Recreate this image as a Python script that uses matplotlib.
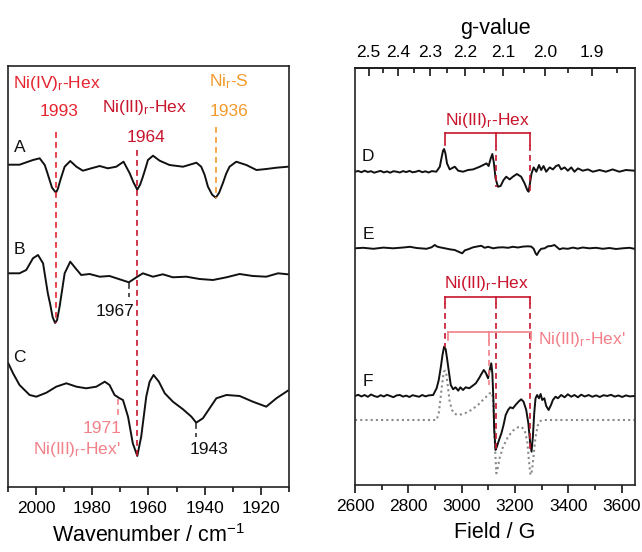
import numpy as np
import matplotlib
matplotlib.use("Agg")
import matplotlib.pyplot as plt

plt.rcParams['font.family'] = ['Liberation Sans', 'DejaVu Sans']
plt.rcParams['mathtext.fontset'] = 'custom'
plt.rcParams['mathtext.rm'] = 'Liberation Sans'
plt.rcParams['mathtext.it'] = 'Liberation Sans'

# ---------------- IR data (wavenumber, relative absorbance) ----------------
ir_A_wn = [2010, 2006.0, 2001.2, 1998.8, 1997.0, 1996.2, 1995.3, 1994.4, 1993.0, 1992.3, 1991.5, 1990.6,
           1989.9, 1987.9, 1985.7, 1983.4, 1980.4, 1977.4, 1974.5, 1971.5, 1968.9, 1966.7, 1965.3, 1964.0,
           1963.0, 1962.0, 1961.0, 1960.2, 1958.4, 1956.0, 1952.5, 1947.7, 1942.9, 1941.2, 1940.0, 1938.8,
           1937.3, 1936.0, 1934.8, 1933.5, 1932.3, 1931.1, 1928.7, 1925.1, 1921.5, 1918.0, 1914.4, 1910.3]
ir_A_val = [0.02, 0.02, 0.067, 0.084, 0.017, -0.05, -0.13, -0.21, -0.26, -0.22, -0.14, -0.06,
            0.0, 0.057, 0.0, -0.04, -0.016, 0.007, -0.016, 0.0, 0.05, -0.066, -0.16, -0.23,
            -0.18, -0.10, -0.01, 0.067, 0.11, 0.06, 0.017, 0.0, 0.04, 0.0, -0.08, -0.20,
            -0.28, -0.31, -0.26, -0.166, -0.07, 0.0, 0.05, 0.017, -0.033, -0.023, -0.01, 0.0]

ir_B_wn = [2010, 2006.0, 2003.6, 2001.2, 1999.4, 1997.6, 1995.9, 1995.0, 1994.2, 1993.3, 1992.6, 1991.7,
           1990.8, 1989.9, 1987.9, 1986.0, 1984.0, 1981.0, 1977.4, 1973.9, 1970.3, 1967.0, 1964.3, 1962.0,
           1958.4, 1954.9, 1951.3, 1946.5, 1941.8, 1937.0, 1932.2, 1927.5, 1922.8, 1918.0, 1913.8, 1910.3]
ir_B_val = [0.017, 0.017, 0.05, 0.167, 0.20, 0.117, -0.183, -0.30, -0.42, -0.48, -0.45, -0.317,
            -0.15, 0.017, 0.133, 0.067, 0.0, 0.01, -0.017, -0.01, -0.043, -0.073, -0.023, 0.017,
            -0.017, 0.007, -0.023, -0.017, -0.04, -0.05, -0.023, 0.01, -0.01, -0.017, 0.017, 0.007]

ir_C_wn = [2010, 2008.3, 2006.0, 2002.4, 2000.0, 1996.4, 1992.9, 1989.3, 1985.7, 1982.2, 1978.6, 1975.6,
           1973.9, 1972.1, 1970.3, 1969.1, 1967.3, 1965.6, 1964.0, 1962.6, 1960.8, 1959.6, 1958.2, 1956.3,
           1954.2, 1951.3, 1947.7, 1944.7, 1943.0, 1940.6, 1938.2, 1935.8, 1932.2, 1927.5, 1922.8, 1918.0,
           1914.4, 1910.3]
ir_C_val = [0.267, 0.167, 0.05, -0.05, -0.067, -0.027, 0.033, 0.067, 0.033, 0.017, 0.033, 0.083,
            0.05, -0.05, -0.083, -0.10, -0.267, -0.533, -0.66, -0.467, -0.067, 0.083, 0.15, 0.083,
            -0.033, -0.117, -0.193, -0.267, -0.327, -0.283, -0.183, -0.083, -0.05, -0.06, -0.117, -0.167,
            -0.083, -0.007]

ir_offsets = {'A': 3.203, 'B': 2.12, 'C': 0.97}

# ---------------- EPR data (field / G, relative signal) ----------------
epr_D_B = [2600, 2612, 2624, 2636, 2648, 2660, 2672, 2684, 2696, 2708, 2720, 2732, 2744, 2756, 2768, 2780,
           2792, 2804, 2816, 2828, 2840, 2852, 2864, 2876, 2888, 2905, 2918, 2924, 2930, 2934, 2939, 2945,
           2955, 2974, 2987, 3005, 3024, 3043, 3068, 3093, 3101, 3109, 3115, 3121, 3127, 3136, 3146, 3157,
           3167, 3180, 3192, 3207, 3223, 3236, 3246, 3251, 3256, 3262, 3270, 3280, 3290, 3298, 3307, 3317,
           3330, 3342, 3354, 3364, 3373, 3386, 3398, 3411, 3423, 3436, 3454, 3473, 3492, 3517, 3541, 3566,
           3591, 3616, 3648]
epr_D_val = [0.0, 0.007, -0.005, 0.01, -0.003, 0.005, -0.01, 0.0, 0.008, -0.007, 0.003, -0.01, 0.005, 0.0,
             -0.008, 0.006, -0.004, 0.008, -0.006, 0.0, 0.01, -0.005, 0.004, -0.008, 0.006, 0.0, 0.05, 0.133,
             0.21, 0.227, 0.183, 0.083, 0.023, 0.05, 0.01, 0.0, 0.017, 0.023, 0.05, 0.083, 0.057, 0.133, 0.177,
             0.083, -0.067, -0.15, -0.143, -0.083, -0.05, -0.077, -0.05, -0.023, -0.05, -0.117, -0.183, -0.20,
             -0.117, -0.017, 0.043, 0.0, 0.067, 0.017, 0.057, 0.0, 0.043, 0.023, 0.057, 0.067, 0.023, 0.043,
             0.01, 0.043, 0.0, 0.033, 0.01, 0.023, 0.0, 0.017, 0.0, 0.023, 0.0, 0.017, 0.01]

epr_E_B = [2600, 2631, 2669, 2706, 2743, 2781, 2806, 2831, 2868, 2887, 2899, 2908, 2918, 2937, 2955, 2974,
           2993, 3002, 3012, 3024, 3043, 3062, 3074, 3086, 3099, 3118, 3136, 3155, 3174, 3192, 3211, 3230,
           3248, 3261, 3270, 3277, 3282, 3290, 3298, 3311, 3323, 3336, 3348, 3358, 3367, 3379, 3398, 3417,
           3435, 3454, 3479, 3504, 3529, 3554, 3579, 3604, 3629, 3648]
epr_E_val = [0.0, 0.005, -0.005, 0.007, 0.0, 0.008, 0.015, 0.003, -0.005, 0.01, 0.033, 0.017, 0.01, 0.0,
             -0.01, -0.017, -0.04, -0.05, -0.02, -0.01, 0.01, 0.02, 0.025, 0.005, 0.015, 0.0, 0.008, 0.01,
             0.005, 0.015, 0.008, 0.017, 0.02, 0.017, -0.005, -0.05, -0.067, -0.03, -0.005, 0.0, 0.02, 0.023,
             0.033, 0.01, -0.01, 0.0, -0.005, 0.007, -0.003, 0.008, 0.0, 0.005, -0.005, 0.003, -0.007, 0.0,
             0.005, -0.005]

epr_F_B = [2600, 2612, 2624, 2636, 2648, 2660, 2672, 2684, 2696, 2708, 2720, 2732, 2744, 2756, 2768, 2780,
           2792, 2804, 2816, 2828, 2840, 2852, 2864, 2876, 2893, 2906, 2914, 2922, 2928, 2934, 2940, 2945,
           2952, 2959, 2968, 2977, 2987, 2995, 3005, 3015, 3028, 3040, 3053, 3065, 3074, 3083, 3090, 3099,
           3105, 3111, 3115, 3119, 3122, 3127, 3132, 3140, 3149, 3157, 3165, 3174, 3182, 3192, 3202, 3213,
           3223, 3232, 3242, 3250, 3257, 3262, 3267, 3272, 3277, 3283, 3290, 3296, 3302, 3310, 3317, 3326,
           3335, 3342, 3352, 3361, 3373, 3386, 3398, 3411, 3423, 3436, 3448, 3462, 3476, 3490, 3504, 3518,
           3532, 3546, 3560, 3574, 3588, 3602, 3616, 3630, 3648]
epr_F_val = [0.0, 0.012, -0.005, 0.01, -0.008, 0.015, 0.0, -0.01, 0.008, -0.005, 0.012, 0.0, -0.012, 0.006,
             0.01, -0.006, 0.004, -0.01, 0.008, 0.0, -0.008, 0.01, -0.004, 0.006, 0.01, 0.077, 0.16, 0.293,
             0.41, 0.493, 0.467, 0.377, 0.243, 0.11, 0.067, 0.087, 0.053, 0.087, 0.06, 0.087, 0.077, 0.10,
             0.127, 0.177, 0.22, 0.26, 0.233, 0.177, 0.26, 0.327, 0.227, -0.04, -0.34, -0.54, -0.507, -0.44,
             -0.373, -0.29, -0.19, -0.14, -0.113, -0.123, -0.09, -0.057, -0.033, -0.057, -0.14, -0.273, -0.473,
             -0.557, -0.407, -0.173, -0.023, 0.01, -0.023, 0.02, -0.04, -0.023, -0.1, -0.14, -0.09, -0.04,
             -0.007, -0.023, 0.01, -0.013, 0.017, -0.007, 0.01, -0.013, 0.013, -0.005, 0.01, -0.008, 0.006,
             -0.01, 0.008, 0.0, 0.012, -0.006, 0.005, -0.01, 0.006, -0.004, 0.0]

sim_F_B = [2600, 2906, 2914, 2920, 2927, 2933, 2938, 2943, 2949, 2955, 2964, 2974, 2990, 3012, 3036, 3061,
           3086, 3105, 3114, 3119, 3122, 3126, 3130, 3135, 3142, 3155, 3174, 3192, 3211, 3223, 3236, 3246,
           3252, 3258, 3263, 3270, 3277, 3286, 3295, 3307, 3648]
sim_F_val = [0.0, 0.0, 0.067, 0.2, 0.367, 0.483, 0.493, 0.45, 0.317, 0.183, 0.1, 0.06, 0.05, 0.067, 0.1,
             0.15, 0.217, 0.267, 0.273, 0.167, -0.067, -0.333, -0.533, -0.483, -0.383, -0.267, -0.167, -0.107,
             -0.073, -0.067, -0.1, -0.217, -0.4, -0.55, -0.517, -0.35, -0.167, -0.05, -0.01, 0.0, 0.0]

epr_offsets = {'D': 3.133, 'E': 2.367, 'F': 0.89, 'sim': 0.65}

hex_fields = [2937, 3127, 3255]       # Ni(III)r-Hex
hexp_fields = [2949, 3102, 3261]      # Ni(III)r-Hex'
g_major = [2.5, 2.4, 2.3, 2.2, 2.1, 2.0, 1.9]
g_minor = [2.45, 2.35, 2.25, 2.15, 2.05, 1.95, 1.85]
gB_const = 6627.0  # g * B(G) for the microwave frequency used

# ---------------- colours ----------------
c_iv = '#e52530'
c_iii = '#c8142c'
c_or = '#f49a2a'
c_pk = '#f28088'
c_line = '#111111'

fs = 12.5
fig = plt.figure(figsize=(6.42, 5.52), dpi=100)
axL = fig.add_axes([0.0129, 0.1178, 0.4368, 0.7626])
axR = fig.add_axes([0.553, 0.1214, 0.4361, 0.7554])

for ax in (axL, axR):
    for s in ax.spines.values():
        s.set_linewidth(1.2)
        s.set_color('#222222')
    ax.set_yticks([])
    ax.tick_params(axis='x', which='major', direction='out', length=6, width=1.1, labelsize=fs, pad=4)
    ax.tick_params(axis='x', which='minor', direction='out', length=3.5, width=1.1)

# ----- left panel -----
for key, wn, val in (('A', ir_A_wn, ir_A_val), ('B', ir_B_wn, ir_B_val), ('C', ir_C_wn, ir_C_val)):
    axL.plot(wn, np.array(val) + ir_offsets[key], color=c_line, lw=1.4)
axL.set_xlim(2010, 1910)
axL.set_ylim(0, 4.21)
axL.set_xticks([2000, 1980, 1960, 1940, 1920])
axL.set_xticks([2010, 1990, 1970, 1950, 1930, 1910], minor=True)
axL.set_xlabel('Wavenumber / cm$^{-1}$', fontsize=15.5, labelpad=6)

dash = dict(ls=(0, (3.5, 2.5)), lw=1.2)
axL.plot([1993, 1993], [3.553, 2.12 - 0.48], color=c_iv, **dash)
axL.plot([1964, 1964], [3.37, 0.97 - 0.66], color=c_iii, **dash)
axL.plot([1936, 1936], [3.60, 3.203 - 0.31], color=c_or, **dash)
axL.plot([1971, 1971], [0.88, 0.69], color=c_pk, **dash)
axL.plot([1943, 1943], [0.64, 0.50], color='#333333', **dash)
axL.plot([1967, 1967], [2.04, 1.90], color='#333333', **dash)

tk = dict(fontsize=fs, ha='center', va='center')
axL.text(1992.6, 4.04, 'Ni(IV)$_\\mathrm{r}$-Hex', color=c_iv, **tk)
axL.text(1992.0, 3.753, '1993', color=c_iv, **tk)
axL.text(1961.4, 3.80, 'Ni(III)$_\\mathrm{r}$-Hex', color=c_iii, **tk)
axL.text(1961.0, 3.50, '1964', color=c_iii, **tk)
axL.text(1931.4, 4.053, 'Ni$_\\mathrm{r}$-S', color=c_or, **tk)
axL.text(1931.4, 3.753, '1936', color=c_or, **tk)
axL.text(1972.1, 1.753, '1967', color='#111111', **tk)
axL.text(1976.7, 0.587, '1971', color=c_pk, **tk)
axL.text(1985.6, 0.37, "Ni(III)$_\\mathrm{r}$-Hex'", color=c_pk, **tk)
axL.text(1938.5, 0.377, '1943', color='#111111', **tk)
axL.text(2006, 3.40, 'A', color='#111111', **tk)
axL.text(2006, 2.37, 'B', color='#111111', **tk)
axL.text(2006, 1.29, 'C', color='#111111', **tk)

# ----- right panel -----
axR.plot(epr_D_B, np.array(epr_D_val) + epr_offsets['D'], color=c_line, lw=1.4)
axR.plot(epr_E_B, np.array(epr_E_val) + epr_offsets['E'], color=c_line, lw=1.4)
axR.plot(sim_F_B, np.array(sim_F_val) + epr_offsets['sim'], color='#8a8a8a', lw=1.5, ls=(0, (1, 1.5)))
axR.plot(epr_F_B, np.array(epr_F_val) + epr_offsets['F'], color=c_line, lw=1.4)
axR.set_xlim(2600, 3650)
axR.set_ylim(0, 4.17)
axR.set_xticks([2600, 2800, 3000, 3200, 3400, 3600])
axR.set_xticks([2700, 2900, 3100, 3300, 3500], minor=True)
axR.set_xlabel('Field / G', fontsize=15.5, labelpad=6)

def b2g(b):
    b = np.asarray(b, dtype=float)
    return gB_const / np.where(np.abs(b) < 1e-9, 1e-9, b)

sec = axR.secondary_xaxis('top', functions=(b2g, b2g))
sec.set_xticks(g_major)
sec.set_xticks(g_minor, minor=True)
sec.set_xticklabels(['%.1f' % g for g in g_major])
sec.tick_params(axis='x', which='major', direction='in', length=6, width=1.1, labelsize=fs, pad=6)
sec.tick_params(axis='x', which='minor', direction='in', length=3.5, width=1.1)
sec.spines['top'].set_linewidth(1.2)
sec.set_xlabel('g-value', fontsize=15.5, labelpad=8)

# D bracket
yb, yt = 3.517, 3.40
axR.plot([hex_fields[0], hex_fields[2]], [yb, yb], color=c_iii, lw=1.2)
for f in hex_fields:
    axR.plot([f, f], [yb, yt], color=c_iii, lw=1.2)
axR.plot([hex_fields[1]] * 2, [yt, 3.133 - 0.15], color=c_iii, **dash)
axR.plot([hex_fields[2]] * 2, [yt, 3.133 - 0.20], color=c_iii, **dash)
axR.text(3098, 3.65, 'Ni(III)$_\\mathrm{r}$-Hex', color=c_iii, **tk)

# F brackets
yb, yt = 1.883, 1.82
axR.plot([hex_fields[0], hex_fields[2]], [yb, yb], color=c_iii, lw=1.2)
for f in hex_fields:
    axR.plot([f, f], [yb, yt], color=c_iii, lw=1.2)
axR.plot([hex_fields[0]] * 2, [yt, 0.89 + 0.49], color=c_iii, **dash)
axR.plot([hex_fields[1]] * 2, [yt, 0.89 - 0.54], color=c_iii, **dash)
axR.plot([hex_fields[2]] * 2, [yt, 0.89 - 0.557], color=c_iii, **dash)
axR.text(3093, 2.017, 'Ni(III)$_\\mathrm{r}$-Hex', color=c_iii, **tk)

yb, yt = 1.527, 1.45
axR.plot([hexp_fields[0], hexp_fields[2]], [yb, yb], color=c_pk, lw=1.2)
for f in hexp_fields:
    axR.plot([f, f], [yb, yt], color=c_pk, lw=1.2)
axR.plot([hexp_fields[1]] * 2, [yt, 1.0], color=c_pk, **dash)
axR.text(3285, 1.45, "Ni(III)$_\\mathrm{r}$-Hex'", color=c_pk, fontsize=fs, ha='left', va='center')

axR.text(2649, 3.29, 'D', color='#111111', **tk)
axR.text(2649, 2.50, 'E', color='#111111', **tk)
axR.text(2649, 1.033, 'F', color='#111111', **tk)

fig.savefig('out.png', dpi=100)
